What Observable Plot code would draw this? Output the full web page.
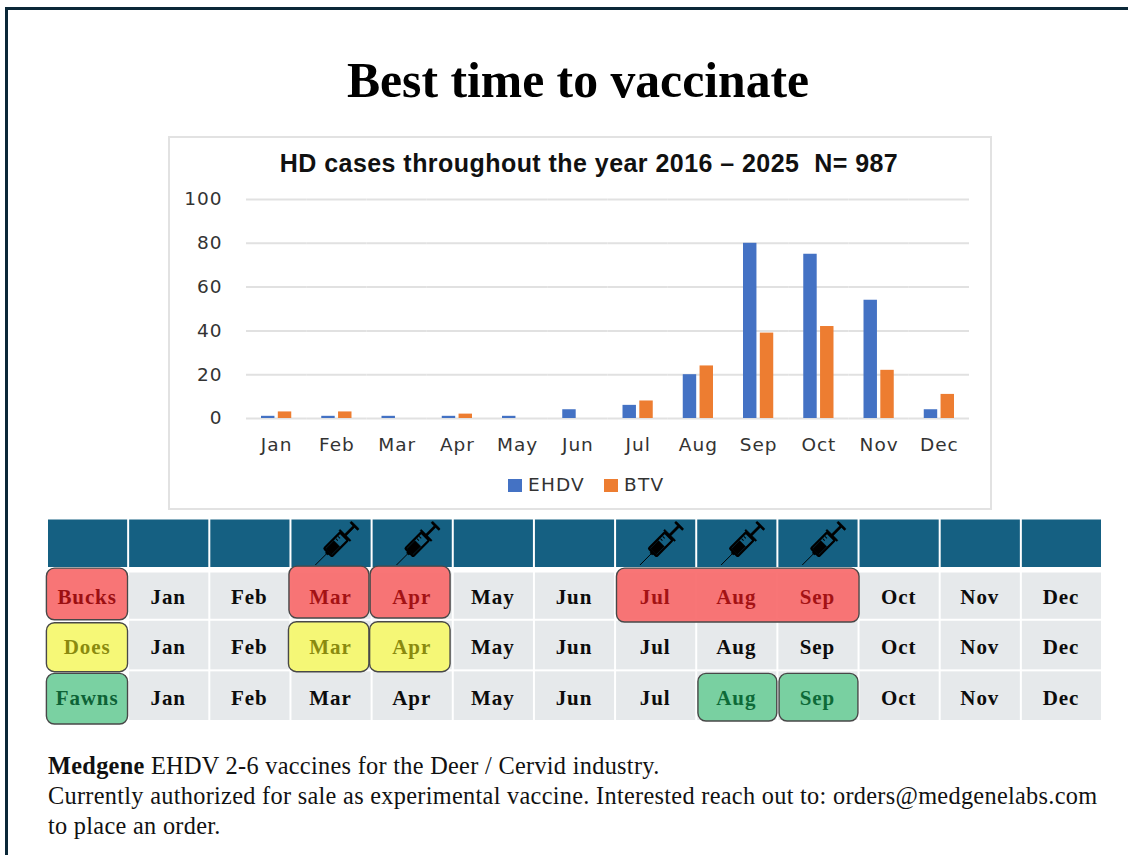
<!DOCTYPE html>
<html><head><meta charset="utf-8">
<script src="https://cdn.jsdelivr.net/npm/d3@7"></script>
<script src="https://cdn.jsdelivr.net/npm/@observablehq/plot@0.6"></script>
<style>
html,body{margin:0;padding:0;background:#fff;width:1128px;height:855px;overflow:hidden}
#page{position:relative;width:1128px;height:855px;overflow:hidden}
#page>*{position:absolute}
#bt{left:5px;top:7px;right:0;bottom:0;border-top:3px solid #0b2838;border-left:3px solid #0b2838}
#title{left:0;width:1156px;top:51px;text-align:center;font:bold 49.7px/60px "Liberation Serif",serif;color:#000}
#frame{left:168px;top:136px;width:820px;height:370px;border:2px solid #e2e2e2}
#ctitle{left:168px;width:842px;top:148px;text-align:center;font:bold 25px/30px "Liberation Sans",sans-serif;letter-spacing:.45px;color:#111;white-space:pre}
#legend{left:508px;top:473px;font:18.5px/24px "DejaVu Sans",sans-serif;color:#333;display:flex;align-items:center;letter-spacing:1.2px}
#legend i{display:inline-block;width:14px;height:13px;margin-right:6px}
#legend span{margin-right:19px}
#note{left:48px;top:751px;width:1075px;font:24.3px/30px "Liberation Serif",serif;letter-spacing:.3px;color:#111}
#chart svg text{letter-spacing:1px}
#table svg text{letter-spacing:.9px}
</style></head>
<body><div id="page">
<div id="bt"></div>
<div id="title">Best time to vaccinate</div>
<div id="frame"></div>
<div id="chart" style="left:168px;top:136px"></div>
<div id="ctitle">HD cases throughout the year 2016 – 2025  N= 987</div>
<div id="legend"><i style="background:#4472c4"></i><span>EHDV</span><i style="background:#ed7d31"></i><span>BTV</span></div>
<div id="table" style="left:0;top:510px"></div>
<div id="note"><b>Medgene</b> EHDV 2-6 vaccines for the Deer / Cervid industry.<br>Currently authorized for sale as experimental vaccine. Interested reach out to: orders@medgenelabs.com<br>to place an order.</div>
</div>
<script>
const months = ["Jan","Feb","Mar","Apr","May","Jun","Jul","Aug","Sep","Oct","Nov","Dec"];
const ehdv = [1,1,1,1,1,4,6,20,80,75,54,4];
const btv = [3,3,0,2,0,0,8,24,39,42,22,11];
const yTicks = [0,20,40,60,80,100];
const rows = ["Bucks","Does","Fawns"];
const vaccineMonths = ["Mar","Apr","Jul","Aug","Sep"];
const bucksSummer = ["Jul","Sep"];
const doesMonths = ["Mar","Apr"];
const fawnsMonths = ["Aug","Sep"];

const bars = months.flatMap((m,i)=>[{m,s:"EHDV",v:ehdv[i]},{m,s:"BTV",v:btv[i]}]);

document.getElementById("chart").append(Plot.plot({
  width:824,height:374,marginLeft:78,marginRight:23,marginTop:63,marginBottom:92,
  style:{background:"transparent",fontFamily:"'DejaVu Sans',sans-serif",fontSize:"18px",color:"#333"},
  fx:{domain:months,padding:0,round:false,label:null},
  x:{domain:["EHDV","BTV"],paddingInner:0.2,paddingOuter:0.893,round:false,axis:null},
  y:{domain:[0,100],label:null,axis:null},
  color:{domain:["EHDV","BTV"],range:["#4472c4","#ed7d31"]},
  marks:[
    Plot.ruleY(yTicks,{stroke:"#e1e1e1",strokeWidth:2}),
    Plot.barY(bars,{fx:"m",x:"s",y:"v",fill:"s"}),
    Plot.axisY({ticks:yTicks,tickSize:0,tickPadding:24,label:null,fontSize:18.5,anchor:"left"}),
    Plot.axisFx({anchor:"bottom",tickSize:0,tickPadding:19,label:null,fontSize:18.5})
  ]
}));

const syringeSvg = `<svg xmlns="http://www.w3.org/2000/svg" viewBox="0 0 100 100"><g transform="translate(52 48) rotate(45)" fill="#000" stroke="#000">
<line x1="0" y1="68" x2="0" y2="34" stroke-width="2"/>
<path d="M-3 34h6l2-6h-10z"/><rect x="-12" y="-20" width="24" height="49" rx="2" fill="none" stroke-width="5"/>
<rect x="-9" y="2" width="18" height="25"/><rect x="-9" y="-12" width="6" height="2" stroke="none"/><rect x="-9" y="-5" width="6" height="2" stroke="none"/>
<rect x="-17" y="-25" width="34" height="4" rx="2"/><rect x="-2.5" y="-50" width="5" height="26"/><rect x="-12" y="-55" width="24" height="5" rx="2"/>
</g></svg>`;
const syringe = "data:image/svg+xml," + encodeURIComponent(syringeSvg);

const col = m => months.indexOf(m) + 1;
const cells = rows.flatMap((r,i)=>months.map((m,j)=>({r:i+1,c:j+1,m,row:r})));
const headers = d3.range(13).map(c=>({c}));

const redFill="#f76a6c", yelFill="#f5f76d", grnFill="#70cd9b", outline="#484848";
const spot = (row,spans,fill,ins) => Plot.rect(spans.map(([a,b])=>({c0:a==null?0:col(a),c1:(b==null?0:col(b))+1,r:rows.indexOf(row)+1})),{
  x1:"c0",x2:"c1",y1:"r",y2:d=>d.r+1,fill,fillOpacity:0.93,stroke:outline,strokeOpacity:1,strokeWidth:1.4,rx:8,ry:8,...ins});
const bucksSet = ["Mar","Apr","Jul","Aug","Sep"];
const inkOf = d => d.row==="Bucks"&&bucksSet.includes(d.m) ? "#a41214"
  : d.row==="Does"&&doesMonths.includes(d.m) ? "#8a8a0e"
  : d.row==="Fawns"&&fawnsMonths.includes(d.m) ? "#0d6a38" : "#0c0c0c";
const labelInk = {Bucks:"#9c0f12",Does:"#8a8a0e",Fawns:"#0d6236"};

document.getElementById("table").append(Plot.plot({
  width:1128,height:220,marginLeft:47,marginRight:26,marginTop:8.5,marginBottom:9,
  style:{background:"transparent",fontFamily:"'Liberation Serif',serif"},
  x:{domain:[0,13],axis:null},
  y:{domain:[0,4],reverse:true,axis:null},
  marks:[
    Plot.rect(headers,{x1:"c",x2:d=>d.c+1,y1:()=>0,y2:()=>1,fill:"#156082",inset:1}),
    Plot.rect(cells,{x1:"c",x2:d=>d.c+1,y1:"r",y2:d=>d.r+1,fill:"#e6e9eb",inset:1}),
    Plot.ruleY([1],{stroke:"#fff",strokeWidth:5.5}),
    ...vaccineMonths.map(m=>Plot.image([{c:col(m)}],{x:d=>d.c+.5,y:()=>.5,src:()=>syringe,width:46,height:46,dx:5,dy:-.5})),
    spot("Bucks",[["Mar","Mar"],["Apr","Apr"]],redFill,{insetLeft:-1.5,insetRight:2.7,insetTop:-3,insetBottom:1.7}),
    spot("Bucks",[bucksSummer],redFill,{insetLeft:1.4,insetRight:-.5,insetTop:-1,insetBottom:-2.3}),
    spot("Does",[["Mar","Mar"],["Apr","Apr"]],yelFill,{insetLeft:-2,insetRight:2.7,insetTop:2,insetBottom:-1.3}),
    spot("Fawns",[["Aug","Aug"],["Sep","Sep"]],grnFill,{insetLeft:1.7,insetRight:.6,insetTop:3,insetBottom:0}),
    spot("Bucks",[[null,null]],redFill,{insetLeft:-.6,insetRight:.6,insetTop:-1,insetBottom:0}),
    spot("Does",[[null,null]],yelFill,{insetLeft:-.6,insetRight:.6,insetTop:3,insetBottom:-1.3}),
    spot("Fawns",[[null,null]],grnFill,{insetLeft:-.6,insetRight:.6,insetTop:3,insetBottom:-3}),
    Plot.text(cells,{x:d=>d.c+.5,y:d=>d.r+.5,text:"m",fill:inkOf,fontWeight:"bold",fontSize:21,dx:-1}),
    Plot.text(rows,{x:()=>.5,y:d=>rows.indexOf(d)+1.5,text:d=>d,fill:d=>labelInk[d],fontWeight:"bold",fontSize:21,dx:-1})
  ]
}));
d3.selectAll("#table svg text").attr("transform",function(){const t=this.getAttribute("transform")||"";return t+" translate(0,2)";});
</script>
</body></html>
